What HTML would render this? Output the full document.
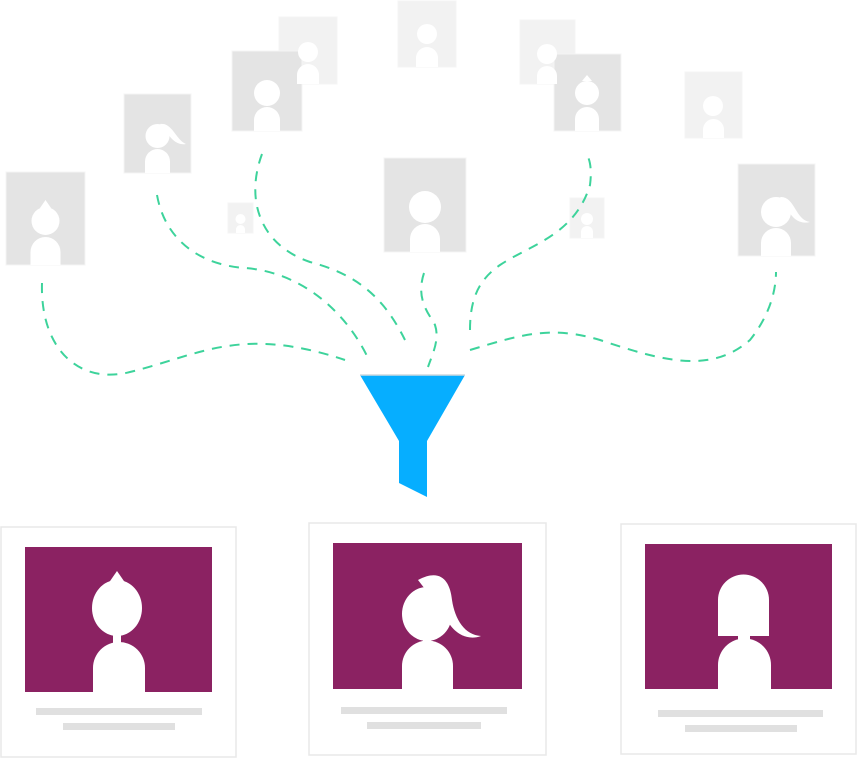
<!DOCTYPE html>
<html><head><meta charset="utf-8"><style>html,body{margin:0;padding:0;background:#fff}svg{display:block}</style></head>
<body>
<svg width="858" height="759" viewBox="0 0 858 759" xmlns="http://www.w3.org/2000/svg">
<g stroke="#f4f4f4" stroke-width="1">
<rect x="279" y="17" width="58" height="67" fill="#f2f2f2"/>
<rect x="398" y="1" width="58" height="66" fill="#f2f2f2"/>
<rect x="520" y="20" width="55" height="64" fill="#f2f2f2"/>
<rect x="685" y="72" width="57" height="66" fill="#f2f2f2"/>
<rect x="228" y="203" width="25" height="30" fill="#f2f2f2"/>
<rect x="570" y="198" width="34" height="40" fill="#f2f2f2"/>
<rect x="6" y="172" width="79" height="93" fill="#e4e4e4"/>
<rect x="124" y="94" width="67" height="79" fill="#e4e4e4"/>
<rect x="232" y="51" width="70" height="80" fill="#e4e4e4"/>
<rect x="384" y="158" width="82" height="94" fill="#e4e4e4"/>
<rect x="554" y="54" width="67" height="77" fill="#e4e4e4"/>
<rect x="738" y="164" width="77" height="92" fill="#e4e4e4"/>
</g>
<g fill="#fff">
<circle cx="45.5" cy="221" r="14"/><path d="M30.5 265V252A15 15 0 0 1 60.5 252V265Z"/><path d="M40 208L45.5 200L51 208Z"/>
<circle cx="157.5" cy="136" r="12"/><path d="M145 173V161.5A12.5 12.5 0 0 1 170 161.5V173Z"/><path d="M160 124C172 122 176 140 186 144C176 146 168 136 165 128Z"/>
<circle cx="267" cy="93" r="13"/><path d="M254 131V120A13 13 0 0 1 280 120V131Z"/>
<circle cx="308" cy="52" r="10"/><path d="M297 84V75A11 11 0 0 1 319 75V84Z"/>
<circle cx="427" cy="34" r="10"/><path d="M416 67V58A11 11 0 0 1 438 58V67Z"/>
<circle cx="240.5" cy="219" r="5"/><path d="M236 233V229.5A4.5 4.5 0 0 1 245 229.5V233Z"/>
<circle cx="425" cy="207" r="16"/><path d="M410 252V239A15 15 0 0 1 440 239V252Z"/>
<circle cx="547" cy="54" r="10"/><path d="M537 84V76A10 10 0 0 1 557 76V84Z"/>
<circle cx="587" cy="93" r="12"/><path d="M575 131V119A12 12 0 0 1 599 119V131Z"/><path d="M582 81L587 75L592 81Z"/>
<circle cx="587" cy="219" r="6"/><path d="M581 238V232A6 6 0 0 1 593 232V238Z"/>
<circle cx="713" cy="106" r="10"/><path d="M703 138V129.5A10.5 10.5 0 0 1 724 129.5V138Z"/>
<circle cx="776" cy="212" r="15"/><path d="M761 256V243A15 15 0 0 1 791 243V256Z"/><path d="M780 197C795 196 795 220 810 222C795 226 787 210 785 203Z"/>
</g>
<g fill="none" stroke="#3dd39b" stroke-width="2" stroke-dasharray="10 8">
<path d="M42 283C40 350 80 385 130 372C200 355 240 325 345 360"/>
<path d="M157 195C165 240 200 265 245 268C300 272 345 310 368 358"/>
<path d="M262 154C245 200 260 245 310 262C360 275 385 300 405 340"/>
<path d="M424 273C415 300 430 315 435 325C440 340 432 355 428 367"/>
<path d="M470 330C470 300 478 280 500 265C530 245 575 235 590 185C592 170 590 160 587 155"/>
<path d="M470 350C520 335 550 325 600 340C660 360 710 375 750 340C770 315 776 290 776 272"/>
</g>
<path d="M360 375H465L427 441V497L399 483V441Z" fill="#06aeff"/>
<line x1="360" y1="375" x2="465" y2="375" stroke="#cfd8de" stroke-width="1.5"/>
<g fill="#fff" stroke="#e8e8e8" stroke-width="1.5">
<rect x="1" y="527" width="235" height="230"/>
<rect x="309" y="523" width="237" height="232"/>
<rect x="621" y="524" width="235" height="230"/>
</g>
<g fill="#8b2262">
<rect x="25" y="547" width="187" height="145"/>
<rect x="333" y="543" width="189" height="146"/>
<rect x="645" y="544" width="187" height="145"/>
</g>
<g fill="#e0e0e0">
<rect x="36" y="708" width="166" height="7"/><rect x="63" y="723" width="112" height="7"/>
<rect x="341" y="707" width="166" height="7"/><rect x="367" y="722" width="114" height="7"/>
<rect x="658" y="710" width="165" height="7"/><rect x="685" y="725" width="112" height="7"/>
</g>
<g fill="#fff">
<ellipse cx="117" cy="608" rx="25" ry="28"/><path d="M108 584L117 571L126 584Z"/><rect x="113" y="630" width="8" height="14"/>
<path d="M93 692V668A26 26 0 0 1 145 668V692Z"/>
<ellipse cx="427" cy="614" rx="25" ry="27"/><path d="M418 580C440 568 450 580 452 600C455 620 465 635 481 636C465 642 450 630 445 615Z"/><rect x="423" y="636" width="8" height="8"/>
<path d="M402 689V666A25.5 25.5 0 0 1 453 666V689Z"/>
<path d="M718 636V600A25.5 25.5 0 0 1 769 600V636Z"/><rect x="738" y="634" width="12" height="8"/>
<path d="M718 689V665A26.5 26.5 0 0 1 771 665V689Z"/>
</g>
</svg>
</body></html>
